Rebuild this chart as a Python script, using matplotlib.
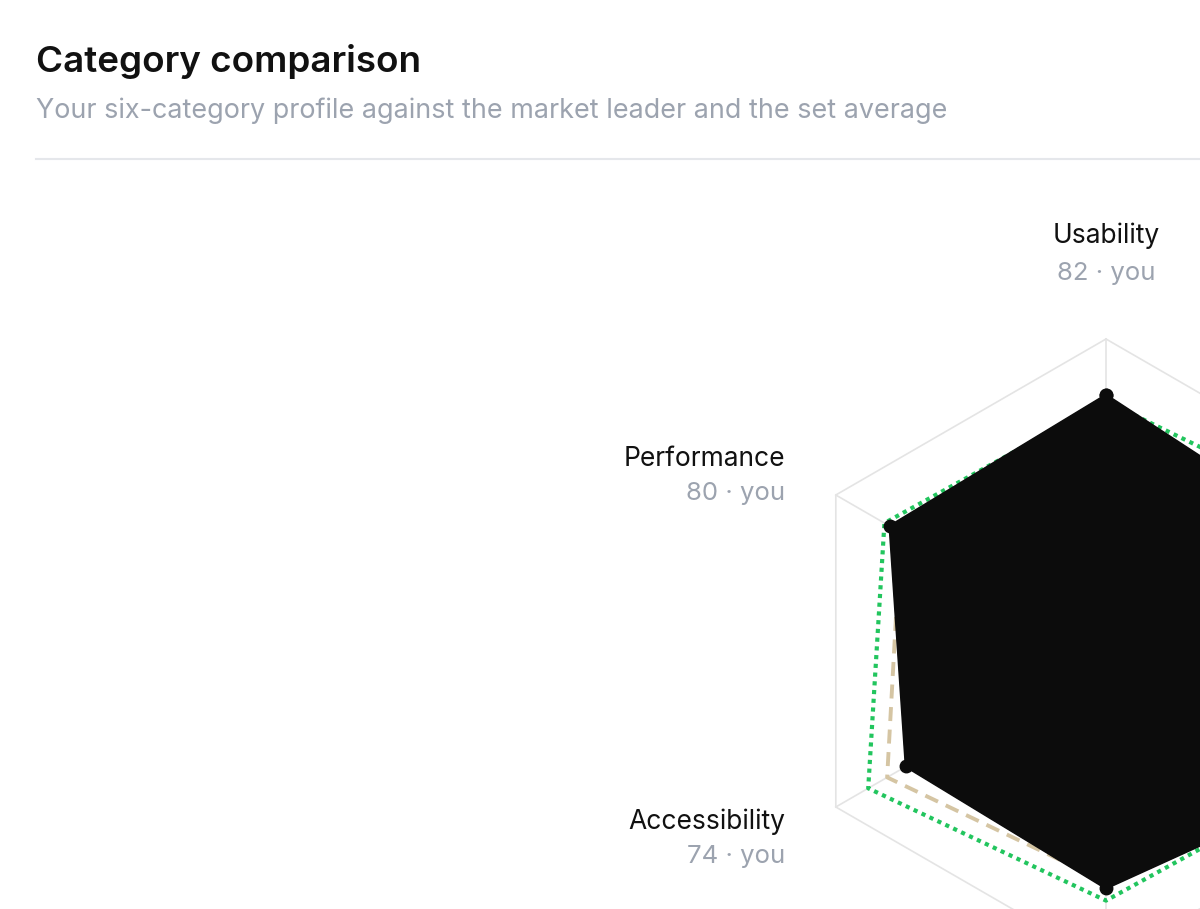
import numpy as np
import matplotlib.pyplot as plt

plt.rcParams["font.family"] = ["Inter", "DejaVu Sans"]

# data (order runs counter-clockwise from the top)
categories = ["Usability", "Performance", "Accessibility", "Reliability", "Security", "Support"]
you = [82, 80, 74, 76, 85, 77]
leader = [80, 82, 88, 80, 82, 87]
average = [72, 76, 81, 74, 78, 72]
visible_labels = ["Usability", "Performance", "Accessibility"]

# colours
INK = "#0c0c0c"
GREEN = "#22c55e"
TAN = "#d5c5a3"
GRID = "#e4e4e4"
MUTED = "#9ca3af"

W, H = 1200, 909
fig = plt.figure(figsize=(W / 100, H / 100), dpi=100)
fig.patch.set_facecolor("white")

# header
fig.text(36 / W, 1 - 72 / H, "Category comparison", fontsize=26.5,
         fontweight="semibold", color="#111111", va="baseline")
fig.text(36 / W, 1 - 117.5 / H,
         "Your six-category profile against the market leader and the set average",
         fontsize=19.4, color=MUTED, va="baseline")
fig.add_artist(plt.Line2D([36 / W, 1.0], [1 - 158.5 / H] * 2,
                          color="#e5e7eb", lw=1.5, transform=fig.transFigure))

# radar axes: centre (1106, 651) px, r=100 -> 312 px
cx, cy, R = 1106, 651, 312
rmax = 130
rad = R * rmax / 100
ax = fig.add_axes([(cx - rad) / W, (H - cy - rad) / H, 2 * rad / W, 2 * rad / H],
                  projection="polar")
ax.set_theta_offset(np.pi / 2)
ax.set_ylim(0, rmax)
ax.set_axis_off()

n = len(categories)
theta = np.arange(n) * 2 * np.pi / n
closed = np.append(theta, theta[0])


def ring(vals):
    return np.append(vals, vals[0])


# grid: outer hexagon + spokes
ax.plot(closed, [100] * (n + 1), color=GRID, lw=1.2, zorder=1)
for t in theta:
    ax.plot([t, t], [0, 100], color=GRID, lw=1.2, zorder=1)

ax.plot(closed, ring(average), color=TAN, lw=2.8, linestyle=(0, (3.6, 2.2)), zorder=2)
ax.plot(closed, ring(leader), color=GREEN, lw=3.0, linestyle=(0, (1.0, 1.1)), zorder=3)
ax.fill(closed, ring(you), color=INK, zorder=4)
ax.plot(closed, ring(you), color=INK, lw=2, marker="o", markersize=9, zorder=5)

# labels
r_lab = 118.8
offsets = {  # px: name baseline shift, value baseline shift (down positive)
    "Usability": (-37, 0, "center"),
    "Performance": (0, 34, "right"),
    "Accessibility": (-7, 27, "right"),
}
for i, name in enumerate(categories):
    if name not in visible_labels:
        continue
    dn, dv, ha = offsets[name]
    ax.annotate(name, xy=(theta[i], r_lab), xytext=(0, -dn * 0.72),
                textcoords="offset points", ha=ha, va="baseline",
                fontsize=19, color="#111111", annotation_clip=False)
    ax.annotate(f"{you[i]} · you", xy=(theta[i], r_lab), xytext=(0, -dv * 0.72),
                textcoords="offset points", ha=ha, va="baseline",
                fontsize=18.5, color=MUTED, annotation_clip=False)

fig.savefig("out.png", dpi=100, facecolor="white")
